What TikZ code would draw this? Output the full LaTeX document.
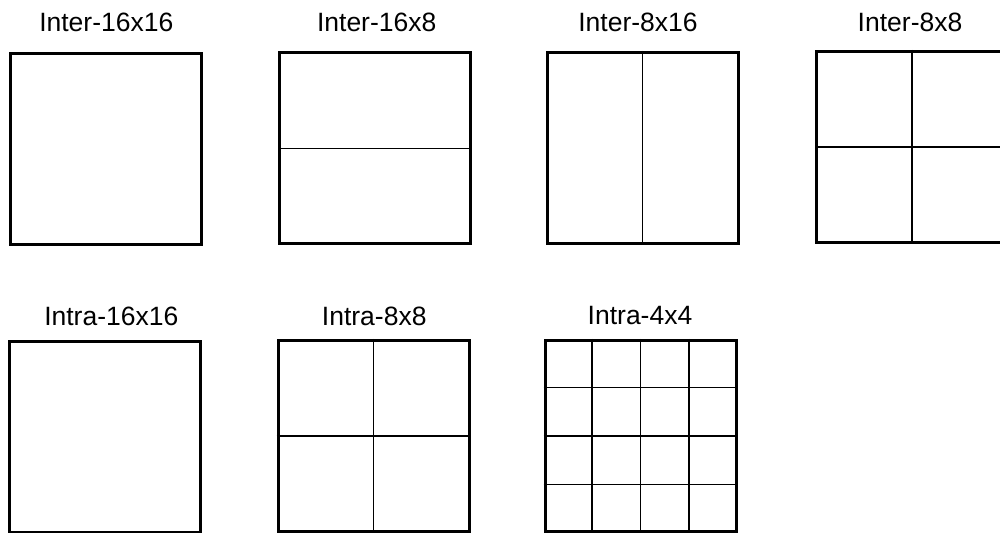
\documentclass[tikz,border=0pt]{standalone}
\usepackage{fontspec}
\setmainfont{Liberation Sans}
\usetikzlibrary{calc}
\tikzset{
  blk/.style={draw,line width=1.5pt,minimum size=95.5pt,inner sep=0pt},
  part/.style={line width=0.75pt},
  lbl/.style={font=\fontsize{13.25pt}{16pt}\selectfont,inner sep=0pt}
}
\begin{document}
\begin{tikzpicture}[x=0.5pt,y=-0.5pt]
  \useasboundingbox (0,0) rectangle (1000,533);
  % inter partitions
  \node[blk] (i16x16) at (106,149) {};
  \node[blk] (i16x8) at (375,148.5) {};
  \node[blk] (i8x16) at (642.5,148) {};
  \node[blk] (i8x8) at (912,147) {};
  \draw[part] (i16x8.west) -- (i16x8.east);
  \draw[part] (i8x16.north) -- (i8x16.south);
  \draw[part] (i8x8.north) -- (i8x8.south) (i8x8.west) -- (i8x8.east);
  \node[lbl] (t16x16) at (106.3,22.5) {Inter-16x16};
  \node[lbl] (t16x8) at (376.7,22.5) {Inter-16x8};
  \node[lbl] (t8x16) at (638,22.5) {Inter-8x16};
  \node[lbl] (t8x8) at (910,22.5) {Inter-8x8};
  % intra partitions
  \node[blk] (a16x16) at (105,437) {};
  \node[blk] (a8x8) at (373.5,436) {};
  \node[blk] (a4x4) at (640.5,436) {};
  \draw[part] (a8x8.north) -- (a8x8.south) (a8x8.west) -- (a8x8.east);
  \foreach \f in {0.25,0.5,0.75}{
    \draw[part] ($(a4x4.north west)!\f!(a4x4.north east)$) -- ($(a4x4.south west)!\f!(a4x4.south east)$);
    \draw[part] ($(a4x4.north west)!\f!(a4x4.south west)$) -- ($(a4x4.north east)!\f!(a4x4.south east)$);
  }
  \node[lbl] (s16x16) at (111.3,316) {Intra-16x16};
  \node[lbl] (s8x8) at (374.2,316) {Intra-8x8};
  \node[lbl] (s4x4) at (640,316) {Intra-4x4};
\end{tikzpicture}
\end{document}
